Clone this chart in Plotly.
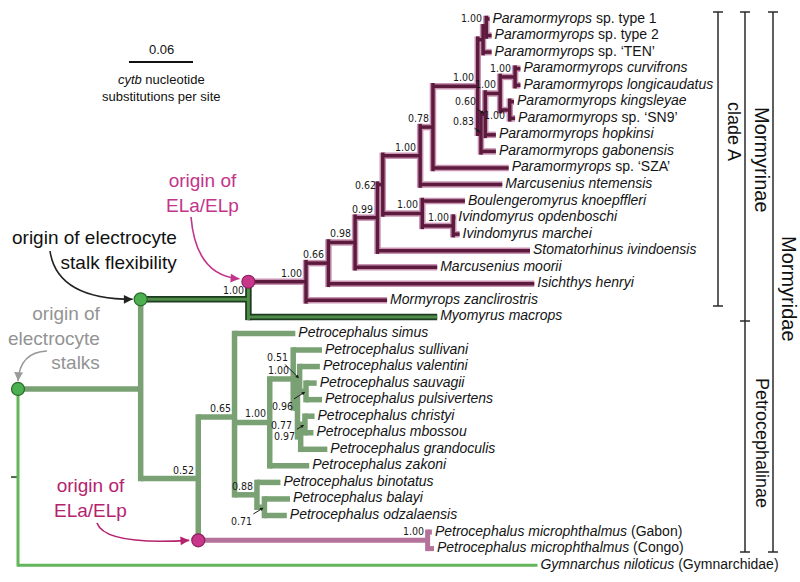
import math

import plotly.graph_objects as go

# ---------------------------------------------------------------- data
# tips, top to bottom (row index = plotted order)
TIP_LABELS = [
    "<i>Paramormyrops</i> sp. type 1",
    "<i>Paramormyrops</i> sp. type 2",
    "<i>Paramormyrops</i> sp. ‘TEN’",
    "<i>Paramormyrops curvifrons</i>",
    "<i>Paramormyrops longicaudatus</i>",
    "<i>Paramormyrops kingsleyae</i>",
    "<i>Paramormyrops</i> sp. ‘SN9’",
    "<i>Paramormyrops hopkinsi</i>",
    "<i>Paramormyrops gabonensis</i>",
    "<i>Paramormyrops</i> sp. ‘SZA’",
    "<i>Marcusenius ntemensis</i>",
    "<i>Boulengeromyrus knoepffleri</i>",
    "<i>Ivindomyrus opdenboschi</i>",
    "<i>Ivindomyrus marchei</i>",
    "<i>Stomatorhinus ivindoensis</i>",
    "<i>Marcusenius moorii</i>",
    "<i>Isichthys henryi</i>",
    "<i>Mormyrops zanclirostris</i>",
    "<i>Myomyrus macrops</i>",
    "<i>Petrocephalus simus</i>",
    "<i>Petrocephalus sullivani</i>",
    "<i>Petrocephalus valentini</i>",
    "<i>Petrocephalus sauvagii</i>",
    "<i>Petrocephalus pulsivertens</i>",
    "<i>Petrocephalus christyi</i>",
    "<i>Petrocephalus mbossou</i>",
    "<i>Petrocephalus grandoculis</i>",
    "<i>Petrocephalus zakoni</i>",
    "<i>Petrocephalus binotatus</i>",
    "<i>Petrocephalus balayi</i>",
    "<i>Petrocephalus odzalaensis</i>",
    "<i>Petrocephalus microphthalmus</i> (Gabon)",
    "<i>Petrocephalus microphthalmus</i> (Congo)",
    "<i>Gymnarchus niloticus</i> (Gymnarchidae)",
]
# distance from the root, cytb substitutions per site
TIP_DEPTH = [
    0.442, 0.444, 0.444, 0.471, 0.471, 0.465, 0.466, 0.448, 0.448, 0.460,
    0.454, 0.419, 0.410, 0.414, 0.480, 0.393, 0.484, 0.346, 0.393,
    0.260, 0.285, 0.283, 0.280, 0.285, 0.278, 0.277, 0.290, 0.273,
    0.246, 0.255, 0.252, 0.388, 0.390, 0.487,
]
TIP_PARENT = [
    "paraK", "paraK", "paraJ", "paraF", "paraF", "paraG", "paraG",
    "para060", "para083", "n078", "n100a", "n100b", "ivind", "ivind",
    "n099", "n098", "n066", "cladeA", "mormyrinae",
    "p065", "pO", "pS", "pSP", "pSP", "pCM", "pCM", "pT", "pN",
    "p088", "p071", "p071", "micro", "micro", "root",
]

NODE_NAMES = [
    "root", "mormyridae", "mormyrinae", "cladeA", "n066", "n098", "n099",
    "n062", "n100a", "n078", "para", "paraJ", "paraK", "para083", "para060",
    "paraE", "paraF", "paraG", "n100b", "ivind",
    "petro", "p065", "pN", "pO", "pQ", "pS", "pSP", "pT", "pCM",
    "p088", "p071", "micro",
]
NODE_PARENT = [
    None, "root", "mormyridae", "mormyrinae", "cladeA", "n066", "n098",
    "n099", "n062", "n100a", "n078", "para", "paraJ", "para", "para083",
    "para060", "paraE", "paraE", "n062", "n100b",
    "mormyridae", "petro", "p065", "pN", "pO", "pQ", "pS", "pQ", "pT",
    "p065", "p088", "petro",
]
NODE_DEPTH = [
    0.000, 0.115, 0.216, 0.270, 0.291, 0.316, 0.337,
    0.342, 0.377, 0.389, 0.431, 0.436, 0.439, 0.434, 0.438,
    0.452, 0.466, 0.461, 0.379, 0.408,
    0.169, 0.203, 0.236, 0.258, 0.262, 0.264, 0.270, 0.265, 0.269,
    0.224, 0.231, 0.384,
]
NODE_SUPPORT = [
    None, None, "1.00", "1.00", "0.66", "0.98", "0.99",
    "0.62", "1.00", "0.78", "1.00", None, "1.00", "0.83", "0.60",
    "1.00", "1.00", "1.00", "1.00", "1.00",
    "0.52", "0.65", "1.00", "1.00", None, "0.51", "0.96", "0.77", "0.97",
    "0.88", "0.71", "1.00",
]
NODE_GROUP = [
    "root", "petro", "myo", "cladeA", "cladeA", "cladeA", "cladeA",
    "cladeA", "cladeA", "cladeA", "cladeA", "cladeA", "cladeA", "cladeA",
    "cladeA", "cladeA", "cladeA", "cladeA", "cladeA", "cladeA",
    "petro", "petro", "petro", "petro", "petro", "petro", "petro", "petro",
    "petro", "petro", "petro", "micro",
]

# stems carrying a character-origin dot
DOT_NODES = ["mormyridae", "mormyrinae", "cladeA", "micro"]
DOT_KIND = ["stalks", "stalks", "ela", "ela"]

SCALE_LENGTH = 0.06

# ---------------------------------------------------------------- layout
W, H = 800, 582
PX_PER_SUB = 1066.7
ROOT_PX = 18
ROW_TOP_PX = 19
ROW_PX = 16.55
TEXT_PAD_PX = 3  # gap between a tip and its name
FONT = "Liberation Sans, Arial, Helvetica, sans-serif"
NARROW = "Liberation Sans Narrow, Arial Narrow, DejaVu Sans Condensed, sans-serif"

STYLE = {
    "root": [(3, "#63b65a")],
    "petro": [(5.5, "#7aa174")],
    "micro": [(5, "#b5729a")],
    "myo": [(6.5, "#1d3b1e"), (3, "#4f8c4a")],
    "cladeA": [(6.5, "#c994b4"), (3.5, "#5c1b3d")],
}
DRAW_ORDER = ["root", "petro", "micro", "myo", "cladeA"]
DOT_FILL = {"stalks": "#4cb050", "ela": "#c8378a"}
DOT_LINE = {"stalks": "#2a6b2c", "ela": "#8c1f5d"}


def xp(px):
    return (px - ROOT_PX) / PX_PER_SUB


def yp(py):
    return (py - ROW_TOP_PX) / ROW_PX


def to_px(x, y):
    return ROOT_PX + x * PX_PER_SUB, ROW_TOP_PX + y * ROW_PX


def paper(px, py):
    return px / W, 1 - py / H


# ---------------------------------------------------------------- tree
node_idx = {n: i for i, n in enumerate(NODE_NAMES)}
kids = {n: [] for n in NODE_NAMES}
for i, p in enumerate(TIP_PARENT):
    kids[p].append(("t", i))
for n, p in zip(NODE_NAMES, NODE_PARENT):
    if p is not None:
        kids[p].append(("n", n))

node_y = {}


def ypos(kind, key):
    if kind == "t":
        return key
    if key not in node_y:
        node_y[key] = sum(ypos(*k) for k in kids[key]) / len(kids[key])
    return node_y[key]


for n in NODE_NAMES:
    ypos("n", n)

segs = {g: ([], []) for g in STYLE}


def seg(g, xs, ys):
    segs[g][0].extend(list(xs) + [None])
    segs[g][1].extend(list(ys) + [None])


for n, d, g in zip(NODE_NAMES, NODE_DEPTH, NODE_GROUP):
    ys = [ypos(*k) for k in kids[n]]
    pad = STYLE[g][0][0] / 2 / ROW_PX
    seg(g, [d, d], [min(ys) - pad, max(ys) + pad])
    for kind, key in kids[n]:
        if kind == "t":
            cd, cg = TIP_DEPTH[key], g
        else:
            cd, cg = NODE_DEPTH[node_idx[key]], NODE_GROUP[node_idx[key]]
        seg(cg, [d, cd], [ypos(kind, key)] * 2)

fig = go.Figure()

# root stem tick
fig.add_trace(go.Scatter(
    x=[xp(ROOT_PX - 7), 0], y=[node_y["root"]] * 2, mode="lines",
    line={"color": "#4d6b4d", "width": 2}, hoverinfo="skip", showlegend=False,
))
for g in DRAW_ORDER:
    for w, c in STYLE[g]:
        fig.add_trace(go.Scatter(
            x=segs[g][0], y=segs[g][1], mode="lines",
            line={"color": c, "width": w}, hoverinfo="skip", showlegend=False,
        ))

dot_x = [NODE_DEPTH[node_idx[NODE_PARENT[node_idx[n]]]] for n in DOT_NODES]
dot_y = [node_y[n] for n in DOT_NODES]
fig.add_trace(go.Scatter(
    x=dot_x, y=dot_y, mode="markers",
    marker={
        "size": 13,
        "color": [DOT_FILL[k] for k in DOT_KIND],
        "line": {"color": [DOT_LINE[k] for k in DOT_KIND], "width": 1.2},
    },
    hoverinfo="skip", showlegend=False,
))

fig.add_trace(go.Scatter(
    x=[d + TEXT_PAD_PX / PX_PER_SUB for d in TIP_DEPTH],
    y=list(range(len(TIP_LABELS))), mode="text",
    text=TIP_LABELS, textposition="middle right",
    textfont={"family": FONT, "size": 14, "color": "#141414"},
    hoverinfo="skip", showlegend=False,
))

# ---------------------------------------------------------------- support values
SUPPORT_ARROW = {
    "para060": (-20, -13), "para083": (-17, -12), "pS": (-22, -22),
    "pSP": (-24, 15), "pCM": (-20, 12), "p071": (-23, 14),
}
# (xshift, downward shift) for labels centred beside their node
SUPPORT_SHIFT = {"pT": (-7, -12), "paraG": (-3, 5), "n062": (-5, 0)}

annotations = []
for n, d, s in zip(NODE_NAMES, NODE_DEPTH, NODE_SUPPORT):
    if s is None:
        continue
    base = {"x": d, "y": node_y[n], "text": s,
            "font": {"family": NARROW, "size": 10.5, "color": "#1a1a1a"}}
    if n in SUPPORT_ARROW:
        ax, ay = SUPPORT_ARROW[n]
        base.update(showarrow=True, ax=ax, ay=ay, arrowhead=2, arrowsize=0.7,
                    arrowwidth=1, arrowcolor="#1a1a1a", standoff=1)
    elif n in SUPPORT_SHIFT:
        sx, sy = SUPPORT_SHIFT[n]
        base.update(showarrow=False, xanchor="right", yanchor="middle",
                    xshift=sx, yshift=-sy)
    else:
        base.update(showarrow=False, xanchor="right", yanchor="bottom",
                    xshift=-2, yshift=1)
    annotations.append(base)

# ---------------------------------------------------------------- origin callouts
shapes = []
dot_px = {n: to_px(x, y) for n, x, y in zip(DOT_NODES, dot_x, dot_y)}


def curved_arrow(start, ctrl, end, color):
    shapes.append({
        "type": "path", "xref": "x", "yref": "y",
        "path": (f"M {xp(start[0])},{yp(start[1])} Q {xp(ctrl[0])},{yp(ctrl[1])} "
                 f"{xp(end[0])},{yp(end[1])}"),
        "line": {"color": color, "width": 1.6},
    })
    tx, ty = end[0] - ctrl[0], end[1] - ctrl[1]
    norm = math.hypot(tx, ty)
    annotations.append({
        "x": xp(end[0]), "y": yp(end[1]), "text": "", "showarrow": True,
        "ax": -tx / norm * 6, "ay": -ty / norm * 6, "arrowhead": 2,
        "arrowsize": 1.1, "arrowwidth": 1.6, "arrowcolor": color, "standoff": 0,
    })


mx, my = dot_px["mormyrinae"]
curved_arrow((50, 251), (57, my), (mx - 8, my), "#222222")
ax_, ay_ = dot_px["cladeA"]
curved_arrow((191, 217), (196, ay_ - 6), (ax_ - 9, ay_ - 3), "#c2358a")
rx, ry = dot_px["mormyridae"]
curved_arrow((47, 351), (rx + 2, 352), (rx, ry - 8), "#9a9a9a")
cx_, cy_ = dot_px["micro"]
curved_arrow((97, 523), (105, cy_ + 5), (cx_ - 9, cy_), "#b5236f")


def label(px, py, text, color, align="center", size=19):
    x, y = paper(px, py)
    annotations.append({
        "x": x, "y": y, "xref": "paper", "yref": "paper", "text": text,
        "showarrow": False, "xanchor": align, "yanchor": "middle",
        "align": align, "font": {"family": FONT, "size": size, "color": color},
    })


label(179, 250, "origin of electrocyte<br>stalk flexibility", "#111111", "right")
label(203, 193, "origin of<br>ELa/ELp", "#c2358a")
label(103, 338, "origin of<br>electrocyte<br>stalks", "#939393", "right")
label(90, 498, "origin of<br>ELa/ELp", "#b5236f")

# ---------------------------------------------------------------- scale bar
bar_x0 = xp(129)
fig.add_trace(go.Scatter(
    x=[bar_x0, bar_x0 + SCALE_LENGTH], y=[yp(62)] * 2, mode="lines",
    line={"color": "#111111", "width": 2}, hoverinfo="skip", showlegend=False,
))
bar_mid = ROOT_PX + (bar_x0 + SCALE_LENGTH / 2) * PX_PER_SUB
label(bar_mid, 49, f"{SCALE_LENGTH:.2f}", "#111111", size=13)
label(bar_mid, 88, "<i>cytb</i> nucleotide<br>substitutions per site", "#111111", size=13)

# ---------------------------------------------------------------- clade brackets
BRACKETS = [
    # (x px, top px, bottom px, ticks px)
    (718, 12, 306, [12, 306]),
    (745, 12, 552, [12, 321, 552]),
    (773, 12, 552, [12, 552]),
]
for bx, top, bot, ticks in BRACKETS:
    x0 = bx / W
    shapes.append({"type": "line", "xref": "paper", "yref": "paper",
                   "x0": x0, "x1": x0, "y0": 1 - top / H, "y1": 1 - bot / H,
                   "line": {"color": "#2a2a2a", "width": 1.5}})
    for t in ticks:
        shapes.append({"type": "line", "xref": "paper", "yref": "paper",
                       "x0": (bx - 5) / W, "x1": (bx + 5) / W,
                       "y0": 1 - t / H, "y1": 1 - t / H,
                       "line": {"color": "#2a2a2a", "width": 1.5}})

CLADE_TEXT = [("clade A", 734, 131, 18), ("Mormyrinae", 762, 160, 20),
              ("Petrocephalinae", 762, 443, 18), ("Mormyridae", 789, 289, 20)]
for text, px, py, size in CLADE_TEXT:
    x, y = paper(px, py)
    annotations.append({
        "x": x, "y": y, "xref": "paper", "yref": "paper", "text": text,
        "showarrow": False, "textangle": 90, "xanchor": "center",
        "yanchor": "middle",
        "font": {"family": FONT, "size": size, "color": "#111111"},
    })

fig.update_layout(
    width=W, height=H,
    margin={"l": 0, "r": 0, "t": 0, "b": 0},
    paper_bgcolor="white", plot_bgcolor="white",
    xaxis={"range": [xp(0), xp(W)], "visible": False, "fixedrange": True},
    yaxis={"range": [yp(H), yp(0)], "visible": False, "fixedrange": True},
    shapes=shapes, annotations=annotations, showlegend=False,
)

fig.write_html(
    "out.html",
    config={"displayModeBar": False},
    post_script="document.body.style.margin = '0';",
)
